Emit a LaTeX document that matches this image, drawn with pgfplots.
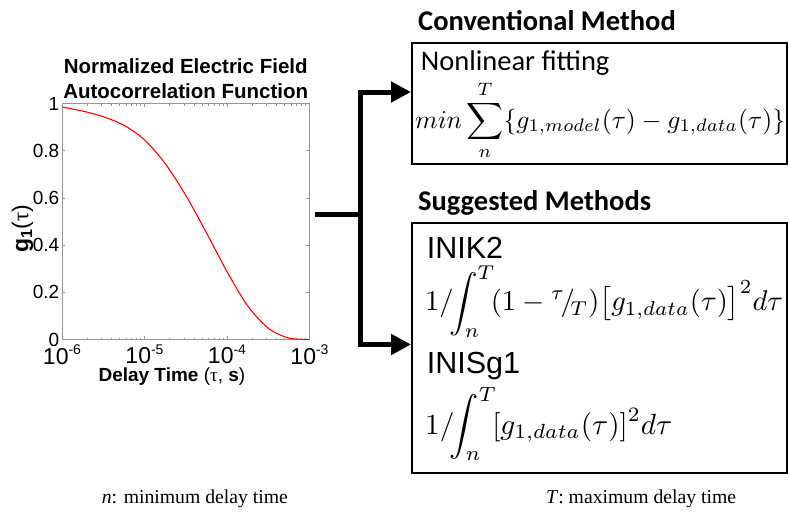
\documentclass[border=0pt]{standalone}
\usepackage{pgfplots}
\pgfplotsset{compat=1.18}
\usepackage{graphicx}
\usepackage{fontspec}
\setmainfont{Liberation Sans}
\newfontfamily\calibri{Carlito}
\newfontfamily\cambria{Liberation Serif}
\usetikzlibrary{arrows.meta}
\definecolor{axgray}{RGB}{150,150,150}
\newcommand{\fs}[2]{\fontsize{#1bp}{#2bp}\selectfont}
\newcommand{\tp}[1]{10\raisebox{0.42em}{\fs{14}{14}#1}}
\begin{document}
\begin{tikzpicture}
\useasboundingbox (0,0) rectangle (789bp,-518bp);
\begin{axis}[
  at={(62bp,-339.5bp)}, anchor=south west,
  width=247.5bp, height=236bp, scale only axis,
  xmode=log, xmin=1e-6, xmax=1e-3, ymin=0, ymax=1,
  axis line style={axgray, line width=0.8bp},
  every tick/.style={axgray, line width=0.6bp},
  tick align=inside,
  major tick length=3.5bp, minor tick length=2bp,
  xtick={1e-6,1e-5,1e-4,1e-3},
  xticklabels={\tp{-6},\tp{-5},\tp{-4},\tp{-3}},
  ytick={0,0.2,0.4,0.6,0.8,1},
  yticklabels={0,0.2,0.4,0.6,0.8,1},
  yticklabel style={font=\fs{19}{19}, inner xsep=2.5bp, inner ysep=0pt},
  xticklabel style={font=\fs{23}{23}, anchor=north, inner sep=0pt, yshift=-5bp},
  title={Normalized Electric Field\\Autocorrelation Function},
  title style={font=\bfseries\fs{20.5}{25}, align=center, at={(axis description cs:0.5,1)}, anchor=south, inner sep=0pt, yshift=-1bp},
  xlabel={\textbf{Delay Time} ({\cambria τ}, \textbf{s})},
  xlabel style={font=\fs{19}{19}, at={(axis description cs:0.444,0)}, anchor=base, inner sep=0pt, yshift=-42bp},
  ylabel={\textbf{g\textsubscript{1}}({\cambria τ})},
  every axis y label/.style={font=\fs{23}{23}, at={(axis description cs:-0.16,0.47)}, rotate=90, anchor=center, inner sep=0pt},
  clip=false,
]
\addplot[red, line width=1.1bp, smooth] coordinates {
(1e-6,0.985) (1.778e-6,0.968) (3.162e-6,0.944) (5.623e-6,0.908)
(1e-5,0.846) (1.778e-5,0.746) (3.162e-5,0.611) (5.623e-5,0.453)
(1e-4,0.288) (1.778e-4,0.143) (3.162e-4,0.048) (5.623e-4,0.006)
(1e-3,0.000)
};
\end{axis}
\begin{scope}[x=1bp,y=-1bp]
% connectors
\draw[line width=5bp] (315,214.5) -- (360,214.5);
\draw[line width=5bp, {Triangle[length=20bp,width=20bp]}-{Triangle[length=20bp,width=20bp]}] (411,344.5) -- (360,344.5) -- (360,92) -- (411,92);
% boxes
\draw[line width=2bp] (411.7,42.7) rectangle (786.5,164);
\draw[line width=2bp] (411.7,223.3) rectangle (786.5,472.7);
% headings
\node[anchor=base west, inner sep=0pt, font=\calibri\bfseries\fs{28.5}{30}] at (418,30) {Conventional Method};
\node[anchor=base west, inner sep=0pt, font=\calibri\bfseries\fs{28.5}{30}] at (418,210.7) {Suggested Methods};
\node[anchor=base west, inner sep=0pt, font=\calibri\fs{28.5}{30}] at (420.7,70) {Nonlinear fitting};
\node[anchor=base west, inner sep=0pt, font=\fs{30.5}{31}] at (426.7,258.5) {INIK2};
\node[anchor=base west, inner sep=0pt, font=\fs{30.5}{31}] at (426.7,373.5) {INISg1};
% formulas
\node[anchor=base west, inner sep=0pt] at (415,128) {\resizebox{370bp}{!}{$\displaystyle min\sum_{n}^{T}\{g_{1,model}(\tau)-g_{1,data}(\tau)\}$}};
\node[anchor=base west, inner sep=0pt] at (425,311) {\resizebox{358bp}{!}{$\displaystyle 1/\!\!\int_{n}^{T}\!(1-{}^{\tau}\!/\!{}_{T})\bigl[g_{1,data}(\tau)\bigr]^{2}d\tau$}};
\node[anchor=base west, inner sep=0pt] at (425,434) {\resizebox{247bp}{!}{$\displaystyle 1/\!\!\int_{n}^{T}\![g_{1,data}(\tau)]^{2}d\tau$}};
% footnotes
\node[anchor=base west, inner sep=0pt, font=\cambria\fs{19.7}{20}] at (101.7,503) {\textit{n}: minimum delay time};
\node[anchor=base west, inner sep=0pt, font=\cambria\fs{19.7}{20}] at (546,503) {\textit{T}: maximum delay time};
\end{scope}
\end{tikzpicture}
\end{document}
